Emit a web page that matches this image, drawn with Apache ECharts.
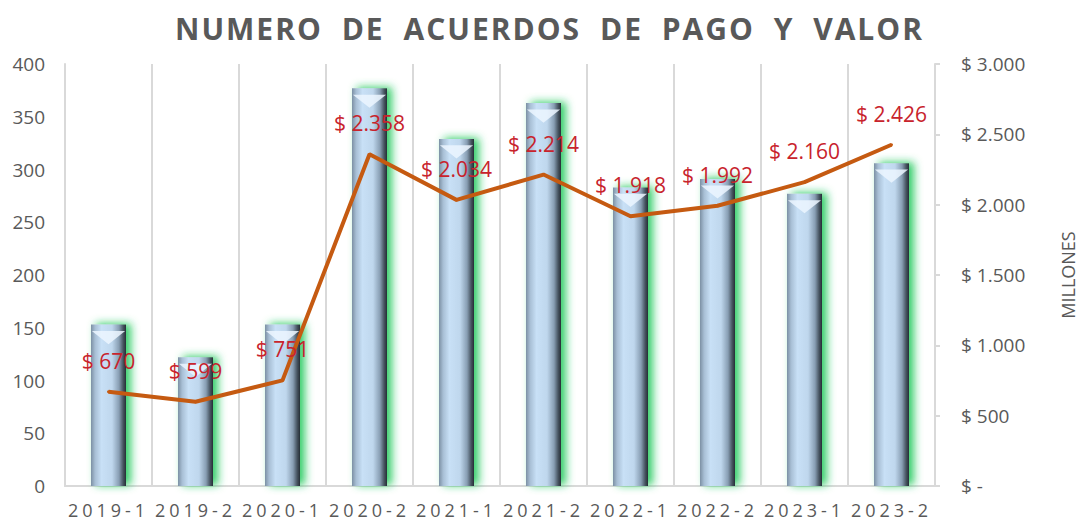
<!DOCTYPE html>
<html>
<head>
<meta charset="utf-8">
<script src="https://cdn.jsdelivr.net/npm/echarts@6/dist/echarts.min.js"></script>
<style type="text/css">
html,body{margin:0;padding:0;background:#fff}
#chart{width:1085px;height:521px}
/* letter spacing for title and x labels (svg renderer) */
#chart text[style*="ttl"]{letter-spacing:2px;word-spacing:9px}
#chart text[style*="xlab"]{letter-spacing:4px}
</style>
</head>
<body>
<div id="chart"></div>
<script type="text/javascript">
var periodos = ['2019-1', '2019-2', '2020-1', '2020-2', '2021-1', '2021-2', '2022-1', '2022-2', '2023-1', '2023-2'];
var acuerdos = [153, 122, 153, 377, 329, 363, 283, 291, 277, 306];
var valores = [670, 599, 751, 2358, 2034, 2214, 1918, 1992, 2160, 2426];

function miles(v){
    return String(v).replace(/\B(?=(\d{3})+(?!\d))/g, '.');
}
function pesos(v){
    return v === 0 ? '$ -' : '$ ' + miles(v);
}

var chart = echarts.init(document.getElementById('chart'), null, {renderer: 'svg'});
var gris = '#595959';
var linea = '#d9d9d9';

var barColor = new echarts.graphic.LinearGradient(0, 0, 1, 0, [
    {offset: 0, color: '#7c90a4'},
    {offset: 0.12, color: '#a8bfd5'},
    {offset: 0.3, color: '#c8e0f6'},
    {offset: 0.6, color: '#bfd7ed'},
    {offset: 0.8, color: '#889eb3'},
    {offset: 0.92, color: '#46535f'},
    {offset: 1, color: '#262f37'}
]);

option = {
    title: {
        text: 'NUMERO DE ACUERDOS DE PAGO Y VALOR',
        left: 170,
        top: 8,
        textStyle: {fontFamily: "'Open Sans', ttl", fontSize: 30, fontWeight: 'bold', color: gris}
    },
    grid: {left: 65, right: 143, top: 64, bottom: 35},
    xAxis: {
        type: 'category',
        data: periodos,
        axisLine: {lineStyle: {color: linea, width: 2}},
        axisTick: {show: false},
        axisLabel: {fontFamily: "'Open Sans', xlab", fontSize: 18, color: gris, margin: 15},
        splitLine: {show: true, lineStyle: {color: linea, width: 2}}
    },
    yAxis: [
        {
            type: 'value',
            min: 0, max: 400, interval: 50,
            axisLine: {show: true, lineStyle: {color: linea, width: 2}},
            axisTick: {show: false},
            splitLine: {show: false},
            axisLabel: {fontFamily: 'Open Sans', fontSize: 19, color: gris, margin: 20}
        },
        {
            type: 'value',
            min: 0, max: 3000, interval: 500,
            position: 'right',
            name: 'MILLONES',
            nameLocation: 'middle',
            nameRotate: 90,
            nameGap: 124,
            nameTextStyle: {fontFamily: 'Open Sans', fontSize: 18, color: gris},
            axisLine: {show: true, lineStyle: {color: linea, width: 2}},
            axisTick: {show: true, length: 5, lineStyle: {color: linea, width: 2}},
            splitLine: {show: false},
            axisLabel: {fontFamily: 'Open Sans', fontSize: 19, color: gris, margin: 26, formatter: pesos}
        }
    ],
    series: [
        {
            name: 'Acuerdos',
            type: 'bar',
            data: acuerdos,
            barWidth: 35,
            itemStyle: {
                color: barColor,
                shadowColor: 'rgba(30,200,90,0.9)',
                shadowBlur: 8,
                shadowOffsetX: 5,
                shadowOffsetY: -1
            },
            z: 2
        },
        {
            name: 'Bisel',
            type: 'pictorialBar',
            data: acuerdos,
            barGap: '-100%',
            symbol: 'path://M0,0 L20,0 L10,8 Z',
            symbolSize: [33, 13],
            symbolPosition: 'end',
            symbolOffset: [0, '50%'],
            itemStyle: {color: 'rgba(236,246,255,0.85)'},
            silent: true,
            z: 3
        },
        {
            name: 'Valor',
            type: 'line',
            yAxisIndex: 1,
            data: valores,
            symbol: 'circle',
            symbolSize: 3,
            showSymbol: true,
            itemStyle: {color: '#c55a11'},
            lineStyle: {color: '#c55a11', width: 4},
            label: {
                show: true,
                position: 'top',
                distance: 19,
                fontFamily: 'Open Sans',
                fontSize: 21,
                color: '#c8232c',
                formatter: function(p){ return pesos(p.value); }
            },
            z: 4
        }
    ]
};
chart.setOption(option);
</script>
</body>
</html>
